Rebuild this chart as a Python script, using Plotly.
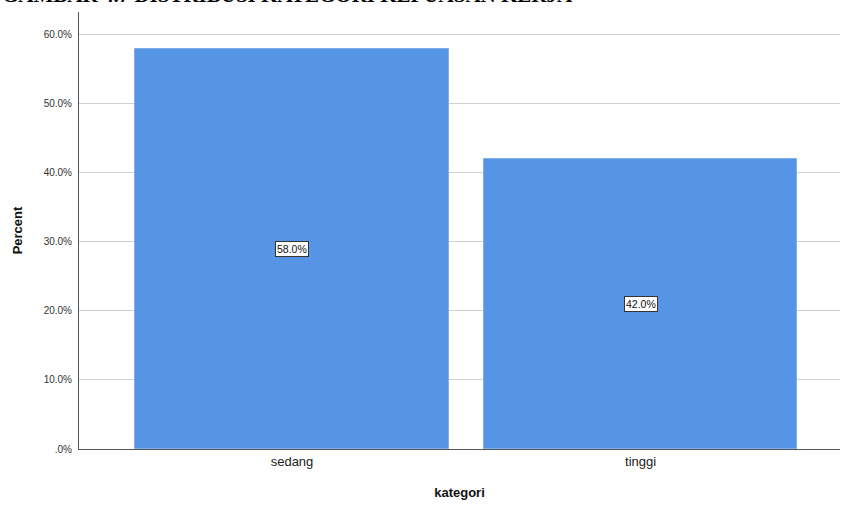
import plotly.graph_objects as go

categories = ["sedang", "tinggi"]
percent = [58.0, 42.0]
label_text = ["58.0%", "42.0%"]
ytick_vals = [0, 10, 20, 30, 40, 50, 60]
ytick_text = [".0%", "10.0%", "20.0%", "30.0%", "40.0%", "50.0%", "60.0%"]

fig = go.Figure()
fig.add_trace(go.Bar(
    x=categories, y=percent, width=0.898,
    marker=dict(color="#5595E3", line=dict(color="#7FAEEA", width=1)),
    hoverinfo="skip",
))

for c, v, t in zip(categories, percent, label_text):
    fig.add_annotation(
        x=c, y=v / 2, text=t, showarrow=False, xref="x", yref="y",
        font=dict(family="Arial, Liberation Sans", size=10.5, color="#111111"),
        bgcolor="white", bordercolor="#333333", borderwidth=1, borderpad=1,
    )

fig.add_annotation(
    x=0, y=1, xref="paper", yref="paper", xanchor="left", yanchor="bottom",
    text="<b>GAMBAR 4.7 DISTRIBUSI KATEGORI KEPUASAN KERJA</b>", showarrow=False,
    font=dict(family="Liberation Serif", size=21, color="black"), yshift=3, xshift=-79,
)

fig.update_layout(
    width=841, height=506,
    margin=dict(l=79, r=1, t=12, b=57, autoexpand=False),
    paper_bgcolor="white", plot_bgcolor="white",
    showlegend=False,
    bargap=0,
    xaxis=dict(
        range=[-0.611, 1.572], showgrid=False,
        showline=True, linecolor="#555555", linewidth=1,
        ticks="", tickfont=dict(family="Arial, Liberation Sans", size=13, color="#222222"),
        title=dict(text="<b>kategori</b>", font=dict(family="Arial, Liberation Sans", size=13, color="#111111"), standoff=20),
    ),
    yaxis=dict(
        range=[0, 63.3], tickvals=ytick_vals, ticktext=ytick_text,
        showgrid=True, gridcolor="#D0D0D0", gridwidth=1,
        showline=True, linecolor="#555555", linewidth=1,
        ticks="", ticklabelstandoff=4,
        tickfont=dict(family="Arial, Liberation Sans", size=10, color="#333333"),
        title=dict(text="<b>Percent</b>", font=dict(family="Arial, Liberation Sans", size=13, color="#111111"), standoff=18),
        zeroline=False,
    ),
)

fig.write_html(
    "out.html",
    config={"displayModeBar": False},
    post_script="document.body.style.margin='0';document.body.style.overflow='hidden';",
)
